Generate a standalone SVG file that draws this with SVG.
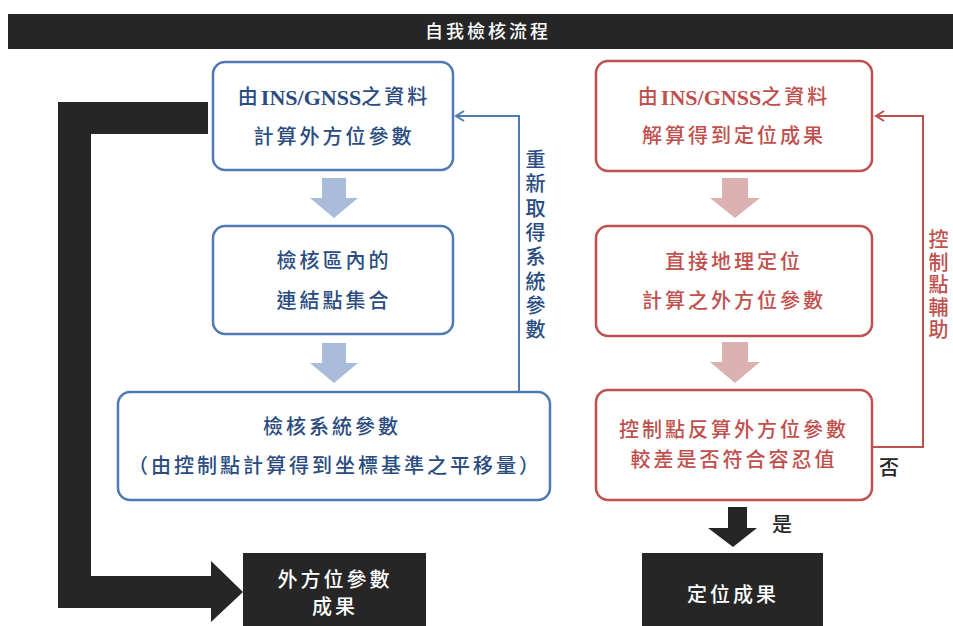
<svg xmlns="http://www.w3.org/2000/svg" width="953" height="626" viewBox="0 0 953 626">
<style>
text{font-family:"Liberation Serif","Noto Sans CJK TC",serif;text-anchor:middle;dominant-baseline:central;font-weight:500}
.b{fill:#fff;stroke:#4f79b2;stroke-width:2.5}
.r{fill:#fff;stroke:#c0504d;stroke-width:2.5}
.bt{fill:#2a4c80;font-size:20px;letter-spacing:3px}
.rt{fill:#c0504d;font-size:20px;letter-spacing:3px}
.wt{fill:#fff;font-size:20px;letter-spacing:3px}
.lat{font-weight:bold;letter-spacing:0;font-size:22px}
.dark{fill:#262626}
</style>
<defs>
<marker id="ab" markerWidth="12" markerHeight="12" refX="9" refY="6" orient="auto" markerUnits="userSpaceOnUse"><path d="M1,1 L9,6 L1,11" fill="none" stroke="#4f79b2" stroke-width="2"/></marker>
<marker id="ar" markerWidth="12" markerHeight="12" refX="9" refY="6" orient="auto" markerUnits="userSpaceOnUse"><path d="M1,1 L9,6 L1,11" fill="none" stroke="#c0504d" stroke-width="2"/></marker>
</defs>
<rect x="0" y="0" width="953" height="626" fill="#fff"/>
<g id="title">
<rect x="8" y="14" width="945" height="35" class="dark"/>
<text x="488" y="32" fill="#fff" font-size="18" letter-spacing="3">自我檢核流程</text>
</g>
<g id="b1">
<rect x="213" y="62" width="240" height="108" rx="12" class="b"/>
<text class="bt" x="334" y="97">由<tspan class="lat">INS/GNSS</tspan>之資料</text>
<text class="bt" x="334" y="137">計算外方位參數</text>
</g>
<g id="b2">
<rect x="213" y="226" width="240" height="108" rx="12" class="b"/>
<text class="bt" x="334" y="261">檢核區內的</text>
<text class="bt" x="334" y="301">連結點集合</text>
</g>
<g id="b3">
<rect x="118" y="392" width="432" height="108" rx="12" class="b"/>
<text class="bt" x="332" y="427">檢核系統參數</text>
<text class="bt" x="335" y="466">（由控制點計算得到坐標基準之平移量）</text>
</g>
<g id="b4">
<rect x="243" y="553" width="183" height="80" class="dark"/>
<text class="wt" x="335" y="580">外方位參數</text>
<text class="wt" x="335" y="607">成果</text>
</g>
<g id="r1">
<rect x="596" y="61" width="276" height="110" rx="12" class="r"/>
<text class="rt" x="734" y="97">由<tspan class="lat">INS/GNSS</tspan>之資料</text>
<text class="rt" x="734" y="136">解算得到定位成果</text>
</g>
<g id="r2">
<rect x="596" y="226" width="276" height="110" rx="12" class="r"/>
<text class="rt" x="734" y="262">直接地理定位</text>
<text class="rt" x="734" y="301">計算之外方位參數</text>
</g>
<g id="r3">
<rect x="596" y="390" width="276" height="110" rx="12" class="r"/>
<text class="rt" x="734" y="430">控制點反算外方位參數</text>
<text class="rt" x="734" y="460">較差是否符合容忍值</text>
</g>
<g id="r4">
<rect x="642" y="553" width="181" height="80" class="dark"/>
<text class="wt" x="733" y="595">定位成果</text>
</g>
<g id="connectors">
<path d="M208,102 H58 V608 H211 V622 L243,592 L211,561 V576 H91 V134 H208 Z" class="dark"/>
<path d="M322,178 H346 V198 H358 L334,218 L310,198 H322 Z" fill="#a9bcda"/>
<path d="M322,343 H346 V363 H358 L334,383 L310,363 H322 Z" fill="#a9bcda"/>
<path d="M722,178 H748 V198 H760 L735,218 L710,198 H722 Z" fill="#dcb1b1"/>
<path d="M722,342 H748 V362 H760 L735,383 L710,362 H722 Z" fill="#dcb1b1"/>
<path d="M728,507 H747 V528 H757 L733,547 L708,528 H728 Z" class="dark"/>
<path d="M519,391 V116 H456" fill="none" stroke="#4f79b2" stroke-width="2" marker-end="url(#ab)"/>
<path d="M873,447 H923 V116 H876" fill="none" stroke="#c0504d" stroke-width="2" marker-end="url(#ar)"/>
<text class="bt" x="537" y="160">重<tspan x="537" dy="24.3">新</tspan><tspan x="537" dy="24.3">取</tspan><tspan x="537" dy="24.3">得</tspan><tspan x="537" dy="24.3">系</tspan><tspan x="537" dy="24.3">統</tspan><tspan x="537" dy="24.3">參</tspan><tspan x="537" dy="24.3">數</tspan></text>
<text class="rt" x="940" y="240">控<tspan x="940" dy="22.5">制</tspan><tspan x="940" dy="22.5">點</tspan><tspan x="940" dy="22.5">輔</tspan><tspan x="940" dy="22.5">助</tspan></text>
<text x="889" y="468" fill="#262626" font-size="20">否</text>
<text x="782" y="525" fill="#262626" font-size="20">是</text>
</g>
</svg>
